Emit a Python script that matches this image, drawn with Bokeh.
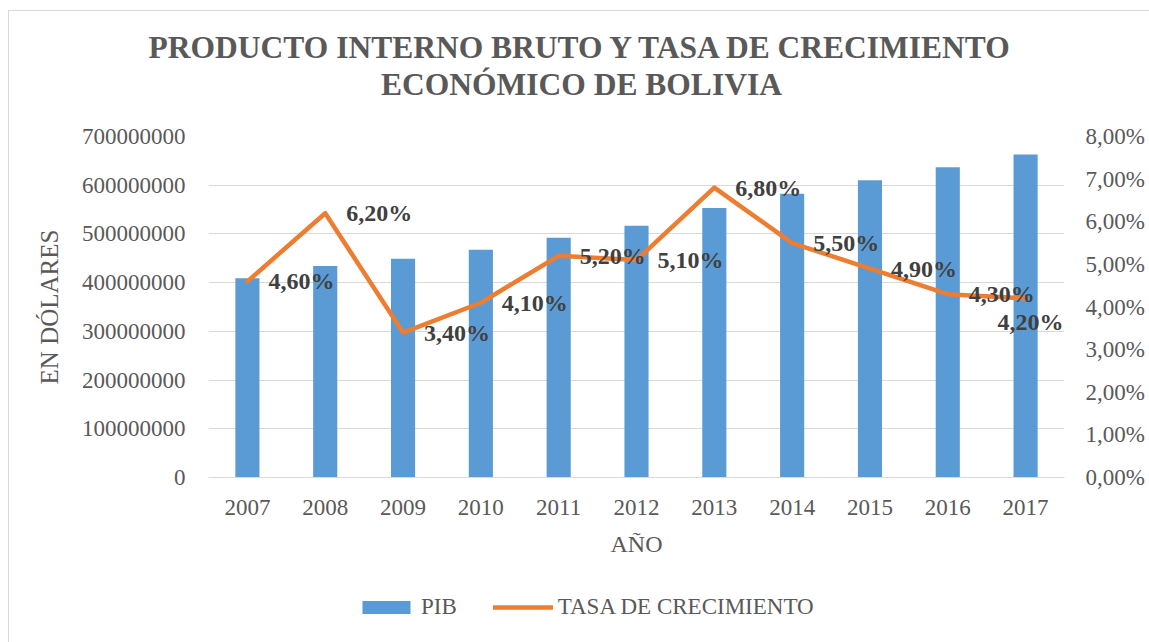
from bokeh.plotting import figure
from bokeh.layouts import column
from bokeh.models import (FactorRange, Range1d, LinearAxis, FixedTicker, BasicTickFormatter,
                          ColumnDataSource, LabelSet, Label, Legend, LegendItem)
from bokeh.embed import file_html
from bokeh.resources import INLINE

years = ["2007", "2008", "2009", "2010", "2011", "2012", "2013", "2014", "2015", "2016", "2017"]
pib = [409e6, 434e6, 449e6, 467.5e6, 492e6, 517e6, 553e6, 582.5e6, 610e6, 637e6, 663e6]
tasa = [4.6, 6.2, 3.4, 4.1, 5.2, 5.1, 6.8, 5.5, 4.9, 4.3, 4.2]
left_ticks = [0, 100e6, 200e6, 300e6, 400e6, 500e6, 600e6, 700e6]
right_ticks = [0, 1, 2, 3, 4, 5, 6, 7, 8]
title_lines = ["PRODUCTO INTERNO BRUTO Y TASA DE CRECIMIENTO", "ECONÓMICO DE BOLIVIA"]
series_names = ["PIB", "TASA DE CRECIMIENTO"]

FONT = "Liberation Serif"
GREY = "#595959"
BLUE = "#5B9BD5"
ORANGE = "#ED7D31"

W = 1149
H_TITLE, H_MAIN, H_LEG = 110, 470, 62

n = len(years)
src = ColumnDataSource(dict(
    year=years, pib=pib, tasa=tasa,
    lbl=[("%.2f" % v).replace(".", ",") + "%" for v in tasa],
    # last label moved inside the plot area so that it is not clipped
    xo=[21] * (n - 1) + [-28],
    yo=[0] * (n - 1) + [-24],
))


def blank_fig(h):
    f = figure(width=W, height=h, x_range=Range1d(0, 1), y_range=Range1d(0, 1),
               output_backend="svg", toolbar_location=None, title=None,
               x_axis_location=None, y_axis_location=None, min_border=0,
               min_border_left=0, min_border_right=0, min_border_top=0, min_border_bottom=0)
    f.frame_align = False
    f.outline_line_color = None
    f.grid.visible = False
    f.background_fill_color = None
    f.border_fill_color = None
    return f


# ---------- title ----------
tf = blank_fig(H_TITLE)
for txt, yy in zip(title_lines, [H_TITLE - 47, H_TITLE - 84]):
    tf.add_layout(Label(x=581, y=yy, x_units="screen", y_units="screen", text=txt,
                        text_align="center", text_baseline="middle", text_font=FONT,
                        text_font_style="bold", text_font_size="31.5px", text_color=GREY))

# ---------- main chart ----------
p = figure(width=W, height=H_MAIN, x_range=FactorRange(*years, range_padding=0),
           y_range=Range1d(0, 700e6), output_backend="svg", toolbar_location=None,
           title=None,
           min_border_left=208, min_border_right=85,
           min_border_top=136 - H_TITLE, min_border_bottom=H_TITLE + H_MAIN - 477)
p.outline_line_color = None
p.xgrid.grid_line_color = None
p.ygrid.grid_line_color = "#D9D9D9"
p.ygrid.grid_line_width = 1
p.background_fill_color = "white"
p.border_fill_color = None

p.extra_y_ranges = {"pct": Range1d(0, 8)}

xa = p.xaxis[0]
xa.axis_line_color = "#D9D9D9"
xa.major_tick_line_color = None
xa.minor_tick_line_color = None
xa.major_label_text_font = FONT
xa.major_label_text_font_size = "23px"
xa.major_label_text_color = GREY
xa.major_label_standoff = 16
xa.axis_label = "AÑO"
xa.axis_label_text_font = FONT
xa.axis_label_text_font_style = "normal"
xa.axis_label_text_font_size = "24px"
xa.axis_label_text_color = GREY
xa.axis_label_standoff = 13

ya = p.yaxis[0]
ya.ticker = FixedTicker(ticks=left_ticks)
ya.formatter = BasicTickFormatter(use_scientific=False)
ya.axis_line_color = None
ya.major_tick_line_color = None
ya.minor_tick_line_color = None
ya.major_label_text_font = FONT
ya.major_label_text_font_size = "23px"
ya.major_label_text_color = GREY
ya.major_label_standoff = 17
ya.axis_label = "EN DÓLARES"
ya.axis_label_text_font = FONT
ya.axis_label_text_font_style = "normal"
ya.axis_label_text_font_size = "25px"
ya.axis_label_text_color = GREY
ya.axis_label_standoff = 16
p.ygrid.ticker = FixedTicker(ticks=left_ticks)

ra = LinearAxis(y_range_name="pct", ticker=FixedTicker(ticks=right_ticks),
                major_label_overrides={t: "%d,00%%" % t for t in right_ticks})
ra.axis_line_color = None
ra.major_tick_line_color = None
ra.minor_tick_line_color = None
ra.major_label_text_font = FONT
ra.major_label_text_font_size = "23px"
ra.major_label_text_color = GREY
ra.major_label_standoff = 15
p.add_layout(ra, "right")

p.vbar(x="year", top="pib", width=0.31, source=src, fill_color=BLUE, line_color=None)
p.line(x="year", y="tasa", source=src, y_range_name="pct", line_color=ORANGE,
       line_width=4.5, line_join="round", line_cap="round")

p.add_layout(LabelSet(x="year", y="tasa", text="lbl", source=src, y_range_name="pct",
                      x_offset="xo", y_offset="yo", text_align="left", text_baseline="middle",
                      text_font=FONT, text_font_style="bold", text_font_size="24px",
                      text_color="#404040"))

# ---------- legend ----------
lf = blank_fig(H_LEG)
# legend proxies, kept outside the visible range of this strip
lb = lf.vbar(x=[-5], top=[-5], width=0.3, fill_color=BLUE, line_color=None)
ll = lf.line(x=[-5, -4], y=[-5, -5], line_color=ORANGE, line_width=4.5, line_cap="round")
legend = Legend(items=[LegendItem(label=series_names[0], renderers=[lb]),
                       LegendItem(label=series_names[1], renderers=[ll])],
                orientation="horizontal", location=(356, 22), margin=0, padding=0,
                spacing=36, label_standoff=5, glyph_width=60, glyph_height=16,
                label_height=24, label_text_font=FONT, label_text_font_size="23px",
                label_text_color=GREY, border_line_color=None, background_fill_alpha=0)
lf.add_layout(legend, "center")

layout = column(tf, p, lf, spacing=0)
layout.styles = {
    "background": "linear-gradient(#D9D9D9,#D9D9D9) 8px 10px / 1px 100% no-repeat, "
                  "linear-gradient(#D9D9D9,#D9D9D9) 8px 10px / 100% 1px no-repeat, white"
}

open("out.html", "w").write(file_html(layout, INLINE))
